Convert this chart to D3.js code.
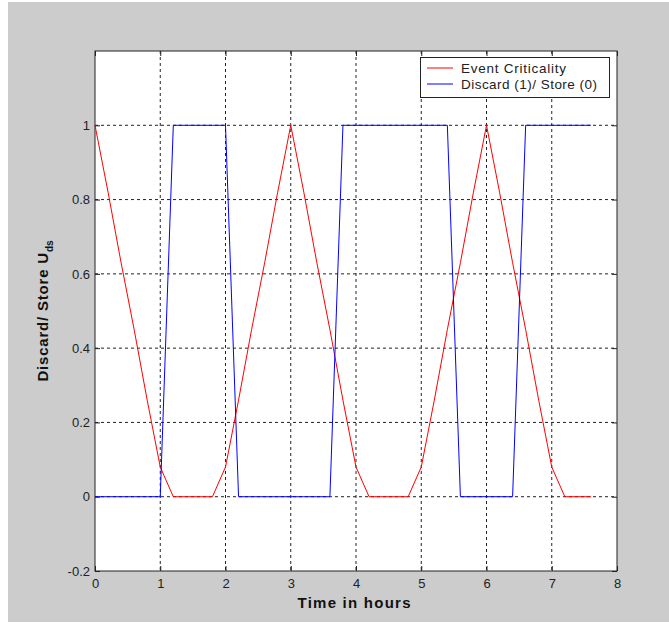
<!DOCTYPE html>
<html lang="en">
<head>
  <meta charset="UTF-8">
  <title>Discard / Store decision</title>
  <style>
    body { margin: 0; background: #fff; font-family: "Liberation Sans", Arial, sans-serif; }
    .tick text { font-size: 13px; fill: #222; }
    .grid line { stroke: #222; stroke-dasharray: 3,3; }
  </style>
</head>
<body>
  <svg width="669" height="635"></svg>
  <script src="https://d3js.org/d3.v7.min.js"></script>
  <script>
    // time samples (hours)
    const time = [0, 0.2, 0.4, 0.6, 0.8, 1.0, 1.2, 1.4, 1.6, 1.8, 2.0, 2.2, 2.4, 2.6, 2.8, 3.0,
                  3.2, 3.4, 3.6, 3.8, 4.0, 4.2, 4.4, 4.6, 4.8, 5.0, 5.2, 5.4, 5.6, 5.8, 6.0,
                  6.2, 6.4, 6.6, 6.8, 7.0, 7.2, 7.4, 7.6];
    const criticality = [1, 0.82, 0.63, 0.45, 0.26, 0.08, 0, 0, 0, 0, 0.08, 0.26, 0.45, 0.63, 0.82, 1,
                         0.82, 0.63, 0.45, 0.26, 0.08, 0, 0, 0, 0, 0.08, 0.26, 0.45, 0.63, 0.82, 1,
                         0.82, 0.63, 0.45, 0.26, 0.08, 0, 0, 0];
    const discard = [0, 0, 0, 0, 0, 0, 1, 1, 1, 1, 1, 0, 0, 0, 0, 0,
                     0, 0, 0, 1, 1, 1, 1, 1, 1, 1, 1, 1, 0, 0, 0,
                     0, 0, 1, 1, 1, 1, 1, 1];
    const xTicks = [0, 1, 2, 3, 4, 5, 6, 7, 8];
    const yTicks = [-0.2, 0, 0.2, 0.4, 0.6, 0.8, 1];
    const seriesNames = ["Event Criticality", "Discard (1)/ Store (0)"];
    const seriesColors = ["#ff0000", "#0000ff"];

    const svg = d3.select("svg");
    const pLeft = 95, pRight = 617, pTop = 51, pBottom = 571;

    // grey figure background
    svg.append("rect").attr("x", 8).attr("y", 2).attr("width", 661).attr("height", 620)
      .attr("fill", "#cccccc");
    svg.append("rect").attr("x", pLeft).attr("y", pTop)
      .attr("width", pRight - pLeft).attr("height", pBottom - pTop).attr("fill", "#fff");

    const x = d3.scaleLinear().domain([0, 8]).range([pLeft, pRight]);
    const y = d3.scaleLinear().domain([-0.2, 1.2]).range([pBottom, pTop]);

    // grid
    const grid = svg.append("g").attr("class", "grid");
    grid.selectAll(".gx").data(xTicks.slice(1, -1)).join("line")
      .attr("x1", d => x(d)).attr("x2", d => x(d)).attr("y1", pTop).attr("y2", pBottom);
    grid.selectAll(".gy").data(yTicks.slice(1)).join("line")
      .attr("x1", pLeft).attr("x2", pRight).attr("y1", d => y(d)).attr("y2", d => y(d));

    // axes with inward ticks, plain hyphen for negatives like MATLAB
    const fmt = d => String(+d.toFixed(1));
    svg.append("g").attr("transform", `translate(0,${pBottom})`)
      .call(d3.axisBottom(x).tickValues(xTicks).tickSize(-5).tickPadding(8).tickFormat(fmt));
    svg.append("g").attr("transform", `translate(${pLeft},0)`)
      .call(d3.axisLeft(y).tickValues(yTicks).tickSize(-5).tickPadding(5).tickFormat(fmt));
    svg.append("g").attr("transform", `translate(0,${pTop})`)
      .call(d3.axisTop(x).tickValues(xTicks).tickSize(-5).tickFormat(""));
    svg.append("g").attr("transform", `translate(${pRight},0)`)
      .call(d3.axisRight(y).tickValues(yTicks).tickSize(-5).tickFormat(""));
    svg.selectAll(".domain").remove();
    svg.selectAll(".tick line").attr("stroke", "#222");
    svg.append("rect").attr("x", pLeft).attr("y", pTop)
      .attr("width", pRight - pLeft).attr("height", pBottom - pTop)
      .attr("fill", "none").attr("stroke", "#222");

    // lines
    const series = [criticality, discard];
    const line = d3.line().x((d, i) => x(time[i])).y(d => y(d));
    series.forEach((s, k) => {
      svg.append("path").datum(s).attr("d", line)
        .attr("fill", "none").attr("stroke", seriesColors[k]).attr("stroke-width", 1);
    });

    // legend
    const lg = svg.append("g");
    lg.append("rect").attr("x", 420.5).attr("y", 57.5).attr("width", 189).attr("height", 40)
      .attr("fill", "#fff").attr("stroke", "#222");
    const legendWidths = [105, 136];
    seriesNames.forEach((n, k) => {
      const yy = 68 + k * 16;
      lg.append("line").attr("x1", 427).attr("x2", 453).attr("y1", yy).attr("y2", yy)
        .attr("stroke", seriesColors[k]);
      lg.append("text").attr("x", 461).attr("y", yy + 5).attr("font-size", 13.5)
        .attr("textLength", legendWidths[k]).attr("lengthAdjust", "spacing")
        .attr("fill", "#222").text(n);
    });

    // labels
    svg.append("text").attr("x", 354).attr("y", 608)
      .attr("text-anchor", "middle").attr("font-size", 15).attr("font-weight", "bold")
      .attr("textLength", 113).attr("lengthAdjust", "spacing")
      .attr("fill", "#111").text("Time in hours");
    const yl = svg.append("text").attr("transform", "translate(48,311) rotate(-90)")
      .attr("text-anchor", "middle").attr("font-size", 15).attr("font-weight", "bold").attr("fill", "#111");
    yl.append("tspan").text("Discard/ Store U").attr("letter-spacing", 0.8);
    yl.append("tspan").attr("dy", 5).attr("font-size", 10).text("ds");
  </script>
</body>
</html>
